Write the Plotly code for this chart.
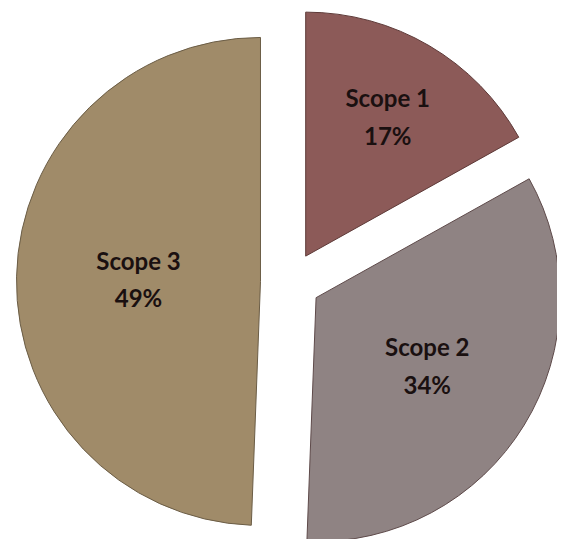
import plotly.graph_objects as go

labels = ["Scope 1", "Scope 2", "Scope 3"]
values = [16.9, 33.7, 49.4]
colors = ["#8C5A58", "#8F8383", "#A08B69"]
line_colors = ["#5E3A38", "#5E4A4A", "#6B5D46"]
pulls = [0.123, 0.123, 0.123]

fig = go.Figure(go.Pie(
    labels=labels,
    values=values,
    sort=False,
    direction="clockwise",
    rotation=0,
    pull=pulls,
    marker=dict(colors=colors, line=dict(color=line_colors, width=1)),
    texttemplate="<span style='font-size:24px'>%{label}<br>%{percent:.0%}</span>",
    textposition="inside",
    insidetextorientation="horizontal",
    textfont=dict(family="Lato", size=29, color="#1a1010", weight="bold"),
    hoverinfo="label+percent",
    showlegend=False,
    domain=dict(x=[0.0, 1.0], y=[0.0, 1.0]),
))

fig.update_layout(
    width=565,
    height=548,
    margin=dict(l=0, r=0, t=0, b=0),
    paper_bgcolor="white",
    plot_bgcolor="white",
)

fig.write_html("out.html")
